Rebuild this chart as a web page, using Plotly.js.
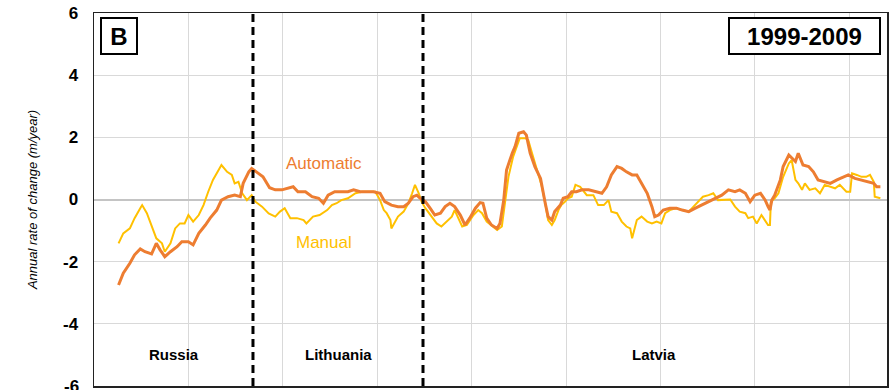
<!DOCTYPE html>
<html>
<head>
<meta charset="utf-8">
<script src="https://cdn.plot.ly/plotly-3.0.1.min.js"></script>
<style>html,body{margin:0;padding:0;background:#fff;}#chart{width:895px;height:390px;}</style>
</head>
<body>
<div id="chart"></div>
<script>
// Distance along coast (arbitrary units, gridline every 100)
const autoX = [26,31,38,43,49,54,61,66,70,75,81,88,93,100,105,111,118,123,130,135,142,149,155,158,164,167,172,179,186,192,199,204,211,216,224,231,238,243,248,255,262,269,275,282,289,296,303,308,315,322,328,333,338,342,345,351,356,361,367,372,377,382,388,393,398,404,409,412,416,421,427,430,434,437,443,446,450,455,458,462,467,473,478,481,485,488,494,497,502,506,511,517,524,531,538,543,548,554,559,564,570,575,580,586,591,594,598,603,610,617,623,630,637,644,651,658,665,672,679,684,690,695,700,706,711,714,716,718,721,727,730,736,739,743,746,751,757,762,767,773,780,787,794,799,806,813,820,826,829,833];
const autoY = [-2.75,-2.37,-2.05,-1.78,-1.59,-1.68,-1.75,-1.41,-1.62,-1.84,-1.68,-1.52,-1.36,-1.36,-1.46,-1.09,-0.82,-0.60,-0.34,-0.02,0.09,0.14,0.09,0.52,0.89,1.00,0.89,0.73,0.38,0.31,0.31,0.36,0.41,0.25,0.25,0.09,0.04,-0.12,0.14,0.25,0.25,0.25,0.31,0.25,0.25,0.25,0.20,-0.07,-0.18,-0.23,-0.23,-0.12,0.09,0.14,0.05,-0.07,-0.28,-0.50,-0.44,-0.23,-0.12,-0.23,-0.50,-0.82,-0.60,-0.28,-0.10,-0.12,-0.60,-0.82,-0.93,-0.77,-0.02,0.95,1.49,1.70,2.13,2.18,2.07,1.49,1.06,0.68,-0.12,-0.55,-0.66,-0.39,-0.18,0.04,0.09,0.25,0.25,0.31,0.31,0.25,0.20,0.41,0.79,1.06,1.00,0.89,0.79,0.79,0.52,0.20,-0.23,-0.55,-0.50,-0.34,-0.28,-0.28,-0.34,-0.39,-0.28,-0.18,-0.07,0.04,0.14,0.31,0.25,0.31,0.20,-0.07,0.14,0.20,-0.02,-0.23,-0.34,-0.02,0.14,0.63,1.06,1.43,1.33,1.22,1.49,1.11,1.06,0.89,0.63,0.57,0.52,0.63,0.73,0.79,0.68,0.63,0.57,0.52,0.41,0.41];
const manX = [26,31,38,43,49,51,56,61,66,72,75,81,86,91,96,100,105,111,116,121,126,132,135,141,146,149,153,157,162,167,171,178,181,185,192,197,202,208,215,222,225,232,239,247,252,257,262,269,277,284,291,298,303,307,310,314,315,319,322,328,333,337,340,344,347,351,358,363,368,374,379,382,386,390,395,402,407,411,416,421,427,432,435,439,444,448,451,457,460,464,469,474,478,481,485,488,492,495,499,502,506,510,515,522,529,534,540,545,548,554,559,564,568,570,575,580,586,591,596,601,605,610,616,623,630,635,640,645,651,656,661,668,674,679,684,690,693,698,702,707,711,714,716,717,721,725,730,736,739,743,746,750,753,758,764,769,774,780,785,790,797,801,803,808,813,818,822,826,827,833];
const manY = [-1.41,-1.09,-0.93,-0.60,-0.28,-0.18,-0.44,-0.87,-1.25,-1.41,-1.68,-1.41,-0.93,-0.77,-0.77,-0.50,-0.71,-0.50,-0.18,0.25,0.63,0.95,1.11,0.89,0.79,0.52,0.57,0.20,-0.02,0.14,-0.07,-0.23,-0.34,-0.45,-0.55,-0.39,-0.28,-0.60,-0.60,-0.66,-0.77,-0.55,-0.50,-0.34,-0.18,-0.12,-0.02,0.04,0.20,0.25,0.25,0.25,-0.02,-0.34,-0.44,-0.66,-0.93,-0.71,-0.55,-0.39,-0.12,0.20,0.47,0.20,-0.07,-0.28,-0.55,-0.77,-0.87,-0.71,-0.55,-0.34,-0.60,-0.87,-0.82,-0.50,-0.34,-0.44,-0.71,-0.82,-0.98,-0.87,-0.23,0.73,1.38,1.70,1.97,1.97,1.91,1.49,0.95,0.47,-0.12,-0.66,-0.82,-0.66,-0.34,-0.18,-0.07,0.04,0.09,0.47,0.41,0.14,0.14,-0.18,-0.18,-0.02,-0.39,-0.44,-0.71,-0.87,-0.93,-1.25,-0.66,-0.55,-0.71,-0.77,-0.71,-0.77,-0.44,-0.34,-0.28,-0.34,-0.39,-0.23,-0.07,0.09,0.14,0.20,-0.02,-0.02,0.00,-0.23,-0.39,-0.44,-0.60,-0.55,-0.77,-0.50,-0.71,-0.82,-0.82,-0.07,0.04,0.20,0.73,1.16,1.27,0.63,0.52,0.31,0.52,0.31,0.36,0.20,0.47,0.41,0.36,0.47,0.25,0.25,0.84,0.79,0.73,0.73,0.79,0.57,0.09,0.04];
const borderX = [168.4, 348.5];
const regionNames = ["Russia", "Lithuania", "Latvia"];
const regionX = [85, 259, 593];
const seriesNames = ["Automatic", "Manual"];
const periodLabel = "1999-2009";
const panelLabel = "B";
const yTicks = [-6, -4, -2, 0, 2, 4, 6];

const FONT = '"Liberation Sans", Arial, Helvetica, sans-serif';
const ORANGE = '#ED7D31', YELLOW = '#FFC000';

const traces = [
  {x: manX, y: manY, mode: 'lines', name: seriesNames[1], line: {color: YELLOW, width: 2}},
  {x: autoX, y: autoY, mode: 'lines', name: seriesNames[0], line: {color: ORANGE, width: 3}}
];

const shapes = borderX.map(v => ({
  type: 'line', xref: 'x', yref: 'paper', x0: v, x1: v, y0: 0, y1: 1,
  line: {color: '#000', width: 3, dash: '8px,5px'}
}));

const annotations = [
  {xref: 'paper', yref: 'paper', x: 0.008, y: 0.99, xanchor: 'left', yanchor: 'top', text: '<b>' + panelLabel + '</b>', showarrow: false,
   font: {family: FONT, size: 24, color: '#000'}, bordercolor: '#000', borderwidth: 2, borderpad: 2, bgcolor: '#fff', width: 30, height: 30},
  {xref: 'paper', yref: 'paper', x: 0.992, y: 0.99, xanchor: 'right', yanchor: 'top', text: '<b>' + periodLabel + '</b>', showarrow: false,
   font: {family: FONT, size: 24, color: '#000'}, bordercolor: '#000', borderwidth: 2, borderpad: 2, bgcolor: '#fff', width: 145, height: 30},
  {xref: 'x', yref: 'y', x: 201, y: 1.15, xanchor: 'left', text: seriesNames[0], showarrow: false, font: {family: FONT, size: 17, color: ORANGE}},
  {xref: 'x', yref: 'y', x: 212, y: -1.38, xanchor: 'left', text: seriesNames[1], showarrow: false, font: {family: FONT, size: 17, color: YELLOW}},
  {xref: 'paper', yref: 'y', x: 0, y: yTicks[0], xanchor: 'right', yanchor: 'middle', xshift: -13, text: '<b>' + yTicks[0] + '</b>', showarrow: false,
   font: {family: FONT, size: 17, color: '#000'}}
];
regionNames.forEach((n, i) => annotations.push({
  xref: 'x', yref: 'y', x: regionX[i], y: -5.0, text: '<b>' + n + '</b>', showarrow: false,
  font: {family: FONT, size: 15, color: '#000'}
}));

const layout = {
  width: 895, height: 390,
  margin: {l: 94, r: 8, t: 13, b: 4},
  paper_bgcolor: '#fff', plot_bgcolor: '#fff',
  showlegend: false,
  font: {family: FONT, color: '#000'},
  xaxis: {range: [0, 840], dtick: 100, tick0: 0, showticklabels: false, ticks: '',
          showgrid: true, gridcolor: '#d9d9d9', gridwidth: 1, zeroline: false,
          showline: true, linecolor: '#222', linewidth: 1.5, mirror: true},
  yaxis: {range: [-6, 6], tickvals: yTicks.slice(1), ticktext: yTicks.slice(1).map(String), ticks: '',
          ticklabelstandoff: 11,
          tickfont: {family: FONT, size: 17, color: '#000', weight: 'bold'},
          showgrid: true, gridcolor: '#d9d9d9', gridwidth: 1,
          zeroline: true, zerolinecolor: '#c4c4c4', zerolinewidth: 2,
          showline: true, linecolor: '#222', linewidth: 1.5, mirror: true,
          title: {text: '<i>Annual rate of change (m/year)</i>', standoff: 22, font: {family: FONT, size: 13, color: '#000'}}},
  shapes: shapes,
  annotations: annotations
};

Plotly.newPlot('chart', traces, layout, {displayModeBar: false, staticPlot: true});
</script>
</body>
</html>
